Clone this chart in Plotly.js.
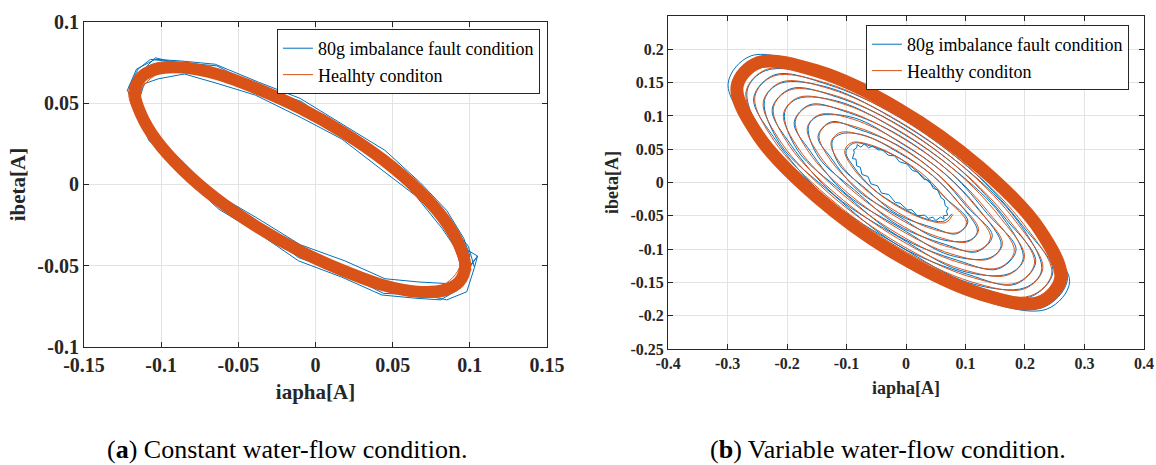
<!DOCTYPE html>
<html>
<head>
<meta charset="utf-8">
<script src="https://cdn.plot.ly/plotly-3.0.1.min.js"></script>
<style>html,body{margin:0;padding:0;background:#fff;}#plot{width:1156px;height:465px;}</style>
</head>
<body>
<div id="plot"></div>
<script>
// ---------- tick values / labels ----------
const leftXTickVals = [-0.15, -0.1, -0.05, 0, 0.05, 0.1, 0.15];
const leftXTickText = ["-0.15", "-0.1", "-0.05", "0", "0.05", "0.1", "0.15"];
const leftYTickVals = [-0.1, -0.05, 0, 0.05, 0.1];
const leftYTickText = ["-0.1", "-0.05", "0", "0.05", "0.1"];
const rightXTickVals = [-0.4, -0.3, -0.2, -0.1, 0, 0.1, 0.2, 0.3, 0.4];
const rightXTickText = ["-0.4", "-0.3", "-0.2", "-0.1", "0", "0.1", "0.2", "0.3", "0.4"];
const rightYTickVals = [-0.25, -0.2, -0.15, -0.1, -0.05, 0, 0.05, 0.1, 0.15, 0.2];
const rightYTickText = ["-0.25", "-0.2", "-0.15", "-0.1", "-0.05", "0", "0.05", "0.1", "0.15", "0.2"];

const seriesNames = ["80g imbalance fault condition", "Healhty conditon", "Healthy conditon"];
const captionA = "(<b>a</b>) Constant water-flow condition.";
const captionB = "(<b>b</b>) Variable water-flow condition.";

// ---------- (a) constant flow: fault (blue) loops ----------
const leftBlueX = [
  0.100, 0.095, 0.086, 0.067, 0.045, 0.019, -0.010, -0.039, -0.066, -0.087, -0.106, -0.116,
  -0.121, -0.116, -0.104, -0.087, -0.065, -0.037, -0.010, 0.019, 0.045, 0.068, 0.085, 0.096, 0.100,
  0.095, 0.092, 0.081, 0.065, 0.043, 0.017, -0.011, -0.037, -0.063, -0.085, -0.101, -0.111,
  -0.115, -0.111, -0.102, -0.085, -0.063, -0.039, -0.009, 0.017, 0.043, 0.065, 0.082, 0.092, 0.095,
  0.105, 0.092, 0.080, 0.068, 0.043, 0.020, -0.012, -0.038, -0.065, -0.085, -0.104, -0.112,
  -0.119, -0.114, -0.104, -0.086, -0.065, -0.036, -0.010, 0.019, 0.042, 0.066, 0.084, 0.094, 0.105,
  0.103, 0.098, 0.085, 0.070, 0.044, 0.019, -0.011, -0.037, -0.066, -0.088, -0.108, -0.116,
  -0.122, -0.115, -0.107, -0.088, -0.064, -0.039, -0.009, 0.018, 0.047, 0.067, 0.087, 0.099, 0.103
];
const leftBlueY = [
  -0.044, -0.056, -0.061, -0.060, -0.058, -0.047, -0.037, -0.020, -0.005, 0.015, 0.031, 0.049,
  0.060, 0.071, 0.077, 0.076, 0.074, 0.063, 0.053, 0.036, 0.021, 0.001, -0.016, -0.033, -0.044,
  -0.056, -0.065, -0.071, -0.070, -0.068, -0.057, -0.047, -0.030, -0.015, 0.005, 0.021, 0.039,
  0.050, 0.062, 0.065, 0.068, 0.062, 0.055, 0.041, 0.028, 0.009, -0.007, -0.027, -0.041, -0.056,
  -0.044, -0.062, -0.069, -0.066, -0.064, -0.054, -0.040, -0.029, -0.006, 0.008, 0.030, 0.041,
  0.057, 0.068, 0.078, 0.074, 0.067, 0.060, 0.047, 0.034, 0.013, -0.005, -0.020, -0.038, -0.044,
  -0.051, -0.066, -0.071, -0.068, -0.067, -0.055, -0.045, -0.026, -0.011, 0.011, 0.027, 0.047,
  0.058, 0.071, 0.077, 0.075, 0.073, 0.061, 0.051, 0.032, 0.016, -0.002, -0.024, -0.038, -0.051
];
// ---------- (a) healthy (orange) thin loops ----------
const leftOrangeX = [
  0.101, 0.086, 0.046, -0.010, -0.066, -0.106, -0.121, -0.106, -0.066, -0.010, 0.046, 0.086,
  0.094, 0.080, 0.042, -0.010, -0.062, -0.100, -0.114, -0.100, -0.062, -0.010, 0.042, 0.080, 0.094
];
const leftOrangeY = [
  -0.052, -0.068, -0.065, -0.043, -0.009, 0.028, 0.058, 0.074, 0.071, 0.049, 0.015, -0.022,
  -0.049, -0.063, -0.060, -0.040, -0.008, 0.026, 0.055, 0.069, 0.066, 0.046, 0.014, -0.020, -0.049
];
// ---------- (a) healthy dense band (many overlapping loops) ----------
const leftBandX = [0.097, 0.093, 0.083, 0.066, 0.044, 0.018, -0.010, -0.038, -0.064, -0.086, -0.103, -0.113,
  -0.117, -0.113, -0.103, -0.086, -0.064, -0.038, -0.010, 0.018, 0.044, 0.066, 0.083, 0.093, 0.097];
const leftBandY = [-0.050, -0.060, -0.065, -0.066, -0.062, -0.053, -0.041, -0.026, -0.009, 0.009, 0.027, 0.043,
  0.056, 0.066, 0.071, 0.072, 0.068, 0.059, 0.047, 0.032, 0.015, -0.003, -0.021, -0.037, -0.050];

// ---------- (b) variable flow: fault (blue) noisy start-up core ----------
const rightBlueCoreX = [
  0.068, 0.070, 0.063, 0.064, 0.058, 0.050, 0.045, 0.038, 0.031, 0.019, 0.010, 0.002,
  -0.010, -0.018, -0.029, -0.041, -0.048, -0.059, -0.064, -0.074, -0.077, -0.083, -0.084, -0.090,
  -0.087, -0.088, -0.083, -0.082, -0.076, -0.070, -0.063, -0.056, -0.047, -0.040, -0.030, -0.019,
  -0.011, 0.001, 0.011, 0.019, 0.030, 0.039, 0.046, 0.053, 0.059, 0.064, 0.066, 0.071, 0.068
];
const rightBlueCoreY = [
  -0.043, -0.049, -0.050, -0.055, -0.052, -0.057, -0.052, -0.054, -0.049, -0.050, -0.041, -0.041,
  -0.031, -0.030, -0.018, -0.016, -0.005, -0.002, 0.009, 0.012, 0.023, 0.025, 0.035, 0.036,
  0.045, 0.049, 0.052, 0.057, 0.053, 0.058, 0.052, 0.055, 0.049, 0.049, 0.041, 0.040,
  0.031, 0.028, 0.018, 0.016, 0.005, 0.003, -0.009, -0.011, -0.023, -0.026, -0.035, -0.038, -0.043
];
// ---------- (b) fault (blue) growing rings ----------
const rightBlueX = [
  0.077, 0.064, 0.035, -0.013, -0.056, -0.089, -0.101, -0.088, -0.057, -0.010, 0.032, 0.066,
  0.104, 0.085, 0.046, -0.014, -0.068, -0.113, -0.124, -0.109, -0.071, -0.011, 0.044, 0.089,
  0.120, 0.106, 0.053, -0.010, -0.081, -0.126, -0.148, -0.126, -0.080, -0.014, 0.057, 0.102,
  0.145, 0.119, 0.066, -0.014, -0.087, -0.147, -0.164, -0.147, -0.087, -0.010, 0.063, 0.124,
  0.160, 0.141, 0.073, -0.010, -0.101, -0.161, -0.188, -0.161, -0.097, -0.014, 0.077, 0.137,
  0.185, 0.154, 0.087, -0.014, -0.107, -0.182, -0.204, -0.182, -0.111, -0.010, 0.083, 0.159,
  0.197, 0.173, 0.091, -0.010, -0.119, -0.193, -0.225, -0.193, -0.115, -0.014, 0.095, 0.169,
  0.218, 0.183, 0.104, -0.014, -0.124, -0.211, -0.238, -0.211, -0.128, -0.010, 0.100, 0.187,
  0.228, 0.200, 0.107, -0.010, -0.135, -0.220, -0.256, -0.220, -0.131, -0.014, 0.111, 0.196,
  0.247, 0.208, 0.118, -0.014, -0.138, -0.236, -0.267, -0.236, -0.142, -0.010, 0.114, 0.212,
  0.275, 0.237, 0.129, -0.010, -0.157, -0.257, -0.299, -0.261, -0.153, -0.014, 0.133, 0.233,
  0.271, 0.229, 0.130, -0.013, -0.150, -0.257, -0.291, -0.253, -0.154, -0.011, 0.126, 0.233, 0.271
];
const rightBlueY = [
  -0.047, -0.058, -0.055, -0.035, -0.009, 0.025, 0.046, 0.059, 0.054, 0.036, 0.006, -0.023,
  -0.058, -0.077, -0.068, -0.048, -0.009, 0.028, 0.062, 0.073, 0.071, 0.044, 0.011, -0.031,
  -0.073, -0.087, -0.084, -0.052, -0.012, 0.037, 0.069, 0.091, 0.080, 0.056, 0.009, -0.036,
  -0.080, -0.104, -0.093, -0.064, -0.011, 0.038, 0.084, 0.100, 0.097, 0.060, 0.015, -0.042,
  -0.094, -0.113, -0.109, -0.068, -0.017, 0.047, 0.090, 0.117, 0.105, 0.072, 0.013, -0.047,
  -0.101, -0.130, -0.117, -0.080, -0.014, 0.048, 0.105, 0.126, 0.121, 0.076, 0.018, -0.048,
  -0.114, -0.137, -0.132, -0.083, -0.020, 0.056, 0.110, 0.141, 0.128, 0.087, 0.016, -0.056,
  -0.119, -0.153, -0.138, -0.094, -0.017, 0.057, 0.123, 0.149, 0.142, 0.090, 0.021, -0.057,
  -0.131, -0.158, -0.151, -0.096, -0.022, 0.065, 0.127, 0.162, 0.147, 0.100, 0.018, -0.065,
  -0.134, -0.172, -0.156, -0.105, -0.020, 0.064, 0.138, 0.168, 0.160, 0.101, 0.024, -0.068,
  -0.149, -0.190, -0.177, -0.113, -0.026, 0.076, 0.149, 0.190, 0.173, 0.117, 0.022, -0.076,
  -0.147, -0.188, -0.170, -0.115, -0.022, 0.070, 0.151, 0.184, 0.174, 0.111, 0.026, -0.074, -0.147
];
// ---------- (b) healthy (orange) growing rings ----------
const rightOrangeX = [
  0.079, 0.067, 0.034, -0.012, -0.058, -0.091, -0.103, -0.091, -0.058, -0.012, 0.034, 0.067,
  0.102, 0.087, 0.045, -0.012, -0.069, -0.111, -0.126, -0.111, -0.069, -0.012, 0.045, 0.087,
  0.122, 0.104, 0.055, -0.012, -0.079, -0.128, -0.146, -0.128, -0.079, -0.012, 0.055, 0.104,
  0.142, 0.121, 0.065, -0.012, -0.089, -0.145, -0.166, -0.145, -0.089, -0.012, 0.065, 0.121,
  0.162, 0.139, 0.075, -0.012, -0.099, -0.163, -0.186, -0.163, -0.099, -0.012, 0.075, 0.139,
  0.182, 0.156, 0.085, -0.012, -0.109, -0.180, -0.206, -0.180, -0.109, -0.012, 0.085, 0.156,
  0.199, 0.171, 0.093, -0.012, -0.117, -0.195, -0.223, -0.195, -0.117, -0.012, 0.093, 0.171,
  0.216, 0.185, 0.102, -0.012, -0.126, -0.209, -0.240, -0.209, -0.126, -0.012, 0.102, 0.185,
  0.230, 0.198, 0.109, -0.012, -0.133, -0.222, -0.254, -0.222, -0.133, -0.012, 0.109, 0.198,
  0.245, 0.210, 0.116, -0.012, -0.140, -0.234, -0.269, -0.234, -0.140, -0.012, 0.116, 0.210,
  0.253, 0.217, 0.121, -0.012, -0.145, -0.241, -0.277, -0.241, -0.145, -0.012, 0.121, 0.217,
  0.267, 0.230, 0.128, -0.012, -0.152, -0.254, -0.291, -0.254, -0.152, -0.012, 0.128, 0.230, 0.267
];
const rightOrangeY = [
  -0.048, -0.060, -0.056, -0.037, -0.008, 0.024, 0.048, 0.060, 0.056, 0.037, 0.008, -0.024,
  -0.060, -0.075, -0.070, -0.046, -0.010, 0.029, 0.060, 0.075, 0.070, 0.046, 0.010, -0.029,
  -0.071, -0.089, -0.082, -0.054, -0.011, 0.035, 0.071, 0.089, 0.082, 0.054, 0.011, -0.035,
  -0.082, -0.102, -0.095, -0.062, -0.013, 0.040, 0.082, 0.102, 0.095, 0.062, 0.013, -0.040,
  -0.092, -0.115, -0.107, -0.070, -0.015, 0.045, 0.092, 0.115, 0.107, 0.070, 0.015, -0.045,
  -0.103, -0.128, -0.119, -0.078, -0.016, 0.050, 0.103, 0.128, 0.119, 0.078, 0.016, -0.050,
  -0.112, -0.139, -0.130, -0.085, -0.018, 0.054, 0.112, 0.139, 0.130, 0.085, 0.018, -0.054,
  -0.121, -0.151, -0.140, -0.092, -0.019, 0.059, 0.121, 0.151, 0.140, 0.092, 0.019, -0.059,
  -0.129, -0.160, -0.149, -0.098, -0.020, 0.063, 0.129, 0.160, 0.149, 0.098, 0.020, -0.063,
  -0.136, -0.170, -0.158, -0.103, -0.022, 0.066, 0.136, 0.170, 0.158, 0.103, 0.022, -0.066,
  -0.141, -0.175, -0.163, -0.107, -0.022, 0.068, 0.141, 0.175, 0.163, 0.107, 0.022, -0.068,
  -0.148, -0.185, -0.172, -0.113, -0.023, 0.072, 0.148, 0.185, 0.172, 0.113, 0.023, -0.072, -0.148
];
// ---------- (b) healthy steady-state dense band ----------
const rightBandX = [0.260, 0.224, 0.124, -0.012, -0.148, -0.248, -0.284, -0.248, -0.148, -0.012, 0.124, 0.224, 0.260];
const rightBandY = [-0.144, -0.180, -0.167, -0.110, -0.023, 0.070, 0.144, 0.180, 0.167, 0.110, 0.023, -0.070, -0.144];

// ---------- styles ----------
const BLUE = "#0072BD", ORANGE = "#D95319";
const SERIF = "Liberation Serif";

const traces = [
  {x: leftBlueX, y: leftBlueY, xaxis: "x", yaxis: "y", type: "scatter", mode: "lines",
   name: seriesNames[0], legend: "legend", line: {color: BLUE, width: 1}},
  {x: leftBandX, y: leftBandY, xaxis: "x", yaxis: "y", type: "scatter", mode: "lines",
   showlegend: false, hoverinfo: "skip", line: {color: ORANGE, width: 12, shape: "spline"}},
  {x: leftOrangeX, y: leftOrangeY, xaxis: "x", yaxis: "y", type: "scatter", mode: "lines",
   name: seriesNames[1], legend: "legend", line: {color: ORANGE, width: 1, shape: "spline"}},

  {x: rightBlueCoreX, y: rightBlueCoreY, xaxis: "x2", yaxis: "y2", type: "scatter", mode: "lines",
   showlegend: false, line: {color: BLUE, width: 1}},
  {x: rightBlueX, y: rightBlueY, xaxis: "x2", yaxis: "y2", type: "scatter", mode: "lines",
   name: seriesNames[0], legend: "legend2", line: {color: BLUE, width: 1, shape: "spline"}},
  {x: rightBandX, y: rightBandY, xaxis: "x2", yaxis: "y2", type: "scatter", mode: "lines",
   showlegend: false, hoverinfo: "skip", line: {color: ORANGE, width: 13, shape: "spline"}},
  {x: rightOrangeX, y: rightOrangeY, xaxis: "x2", yaxis: "y2", type: "scatter", mode: "lines",
   name: seriesNames[2], legend: "legend2", line: {color: ORANGE, width: 1, shape: "spline"}}
];

function axis(domain, range, vals, text, tickSize, title, titleSize, anchor, standoff) {
  return {
    domain: domain, range: range, anchor: anchor, autorange: false,
    tickmode: "array", tickvals: vals, ticktext: text,
    tickfont: {family: SERIF, size: tickSize, color: "#262626", weight: "bold"},
    ticks: "inside", ticklen: 5, tickwidth: 1, tickcolor: "#262626",
    showline: true, linecolor: "#262626", linewidth: 1, mirror: "allticks",
    showgrid: true, gridcolor: "#e3e3e3", gridwidth: 1, zeroline: false,
    title: {text: title, font: {family: SERIF, size: titleSize, color: "#262626", weight: "bold"}, standoff: standoff},
    automargin: false, fixedrange: true
  };
}

const legendStyle = (x, y, size) => ({
  x: x, y: y, xref: "paper", yref: "paper", xanchor: "left", yanchor: "top",
  bgcolor: "#ffffff", bordercolor: "#262626", borderwidth: 1,
  font: {family: SERIF, size: size, color: "#000000"},
  itemwidth: 30, tracegroupgap: 0, traceorder: "normal"
});

const layout = {
  width: 1156, height: 465,
  margin: {l: 0, r: 0, t: 0, b: 0},
  font: {family: SERIF, color: "#000000"},
  paper_bgcolor: "#ffffff", plot_bgcolor: "#ffffff",
  xaxis: axis([0.0727, 0.4732], [-0.15, 0.15], leftXTickVals, leftXTickText, 20, "iapha[A]", 21, "y", 9),
  yaxis: axis([0.2538, 0.9527], [-0.1, 0.1], leftYTickVals, leftYTickText, 20, "ibeta[A]", 21, "x", 6),
  xaxis2: axis([0.5779, 0.9896], [-0.4, 0.4], rightXTickVals, rightXTickText, 16, "iapha[A]", 18, "y2", 10),
  yaxis2: axis([0.2495, 0.9656], [-0.25, 0.25], rightYTickVals, rightYTickText, 16, "ibeta[A]", 18, "x2", 7),
  legend: legendStyle(0.2396, 0.9376, 18),
  legend2: legendStyle(0.7491, 0.9462, 18),
  showlegend: true,
  annotations: [
    {text: captionA, x: 0.249, y: 0.034, xref: "paper", yref: "paper", xanchor: "center", yanchor: "middle",
     showarrow: false, font: {family: SERIF, size: 26, color: "#000000"}},
    {text: captionB, x: 0.768, y: 0.034, xref: "paper", yref: "paper", xanchor: "center", yanchor: "middle",
     showarrow: false, font: {family: SERIF, size: 26, color: "#000000"}}
  ]
};

Plotly.newPlot("plot", traces, layout, {staticPlot: true, displayModeBar: false});
</script>
</body>
</html>
